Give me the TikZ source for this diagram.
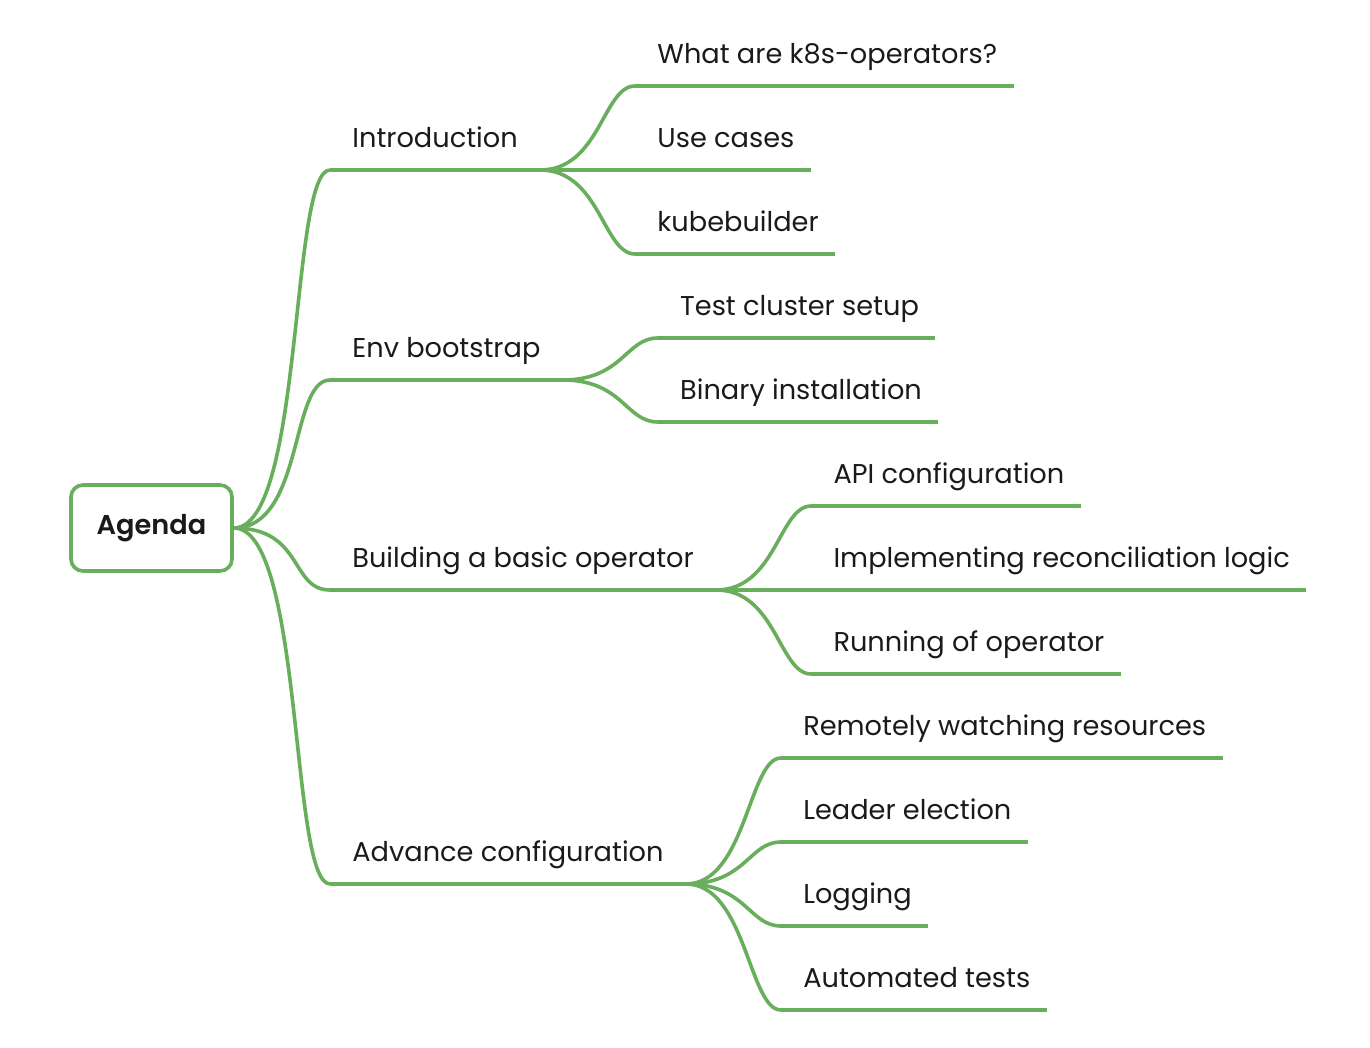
\documentclass[tikz,border=0pt]{standalone}
\usepackage{fontspec}
\setmainfont{Poppins}[BoldFont={Poppins SemiBold}]
\usetikzlibrary{positioning}
\definecolor{mapgreen}{RGB}{104,174,92}
\definecolor{mapink}{RGB}{26,26,26}

\begin{document}
\begin{tikzpicture}[x=0.5pt,y=-0.5pt,
	branch/.style={draw=mapgreen,line width=1.8pt},
	topic/.style={anchor=south west,inner xsep=11pt,inner ysep=11pt,text depth=0pt,text=mapink,font=\fontsize{13.6pt}{16pt}\selectfont},
	rootbox/.style={draw=mapgreen,line width=1.8pt,rounded corners=6pt,minimum width=80.5pt,minimum height=43pt,text=mapink,font=\fontsize{13.6pt}{16pt}\selectfont\bfseries}]
	\useasboundingbox (0,0) rectangle (1370,1048);
	\node[rootbox] (agenda) at (151.5,528) {Agenda};
	\node[topic] (intro) at (330,170) {Introduction};
	\node[topic] (envboot) at (330,380) {Env bootstrap};
	\node[topic] (basicop) at (330,590) {Building a basic operator};
	\node[topic] (advconf) at (330,884) {Advance configuration};

	\node[topic,above right=42pt and 47.5pt of intro.south east] (whatop) {What are k8s-operators?};
	\node[topic,above right=0pt and 47.5pt of intro.south east] (usecase) {Use cases};
	\node[topic,above right=-42pt and 47.5pt of intro.south east] (kubeb) {kubebuilder};
	\node[topic,above right=21pt and 47.5pt of envboot.south east] (testclu) {Test cluster setup};
	\node[topic,above right=-21pt and 47.5pt of envboot.south east] (binins) {Binary installation};
	\node[topic,above right=42pt and 47.5pt of basicop.south east] (apiconf) {API configuration};
	\node[topic,above right=0pt and 47.5pt of basicop.south east] (reconc) {Implementing reconciliation logic};
	\node[topic,above right=-42pt and 47.5pt of basicop.south east] (runop) {Running of operator};
	\node[topic,above right=63pt and 47.5pt of advconf.south east] (remwatch) {Remotely watching resources};
	\node[topic,above right=21pt and 47.5pt of advconf.south east] (leader) {Leader election};
	\node[topic,above right=-21pt and 47.5pt of advconf.south east] (logging) {Logging};
	\node[topic,above right=-63pt and 47.5pt of advconf.south east] (autotest) {Automated tests};

	\foreach \t in {intro,envboot,basicop,advconf} {
		\draw[branch] (agenda.east) .. controls +(70,0) and +(-40,0) .. (\t.south west);
		\draw[branch] (\t.south west) -- (\t.south east);
	}
	\foreach \p/\c in {intro/whatop,intro/usecase,intro/kubeb,envboot/testclu,envboot/binins,basicop/apiconf,basicop/reconc,basicop/runop,advconf/remwatch,advconf/leader,advconf/logging,advconf/autotest} {
		\draw[branch] (\p.south east) .. controls +(60,0) and +(-32,0) .. (\c.south west);
		\draw[branch] (\c.south west) -- ([xshift=-3pt]\c.south east);
	}
\end{tikzpicture}
\end{document}
